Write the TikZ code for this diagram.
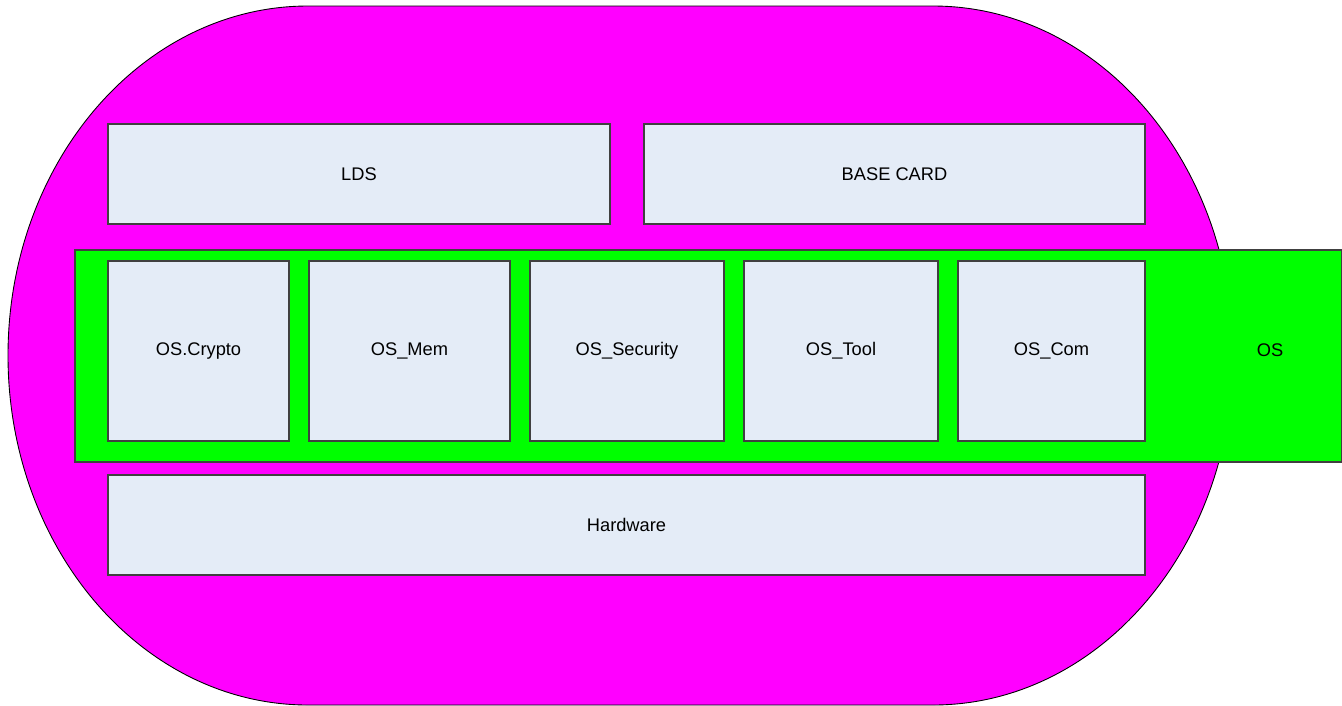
\documentclass[tikz,border=0pt]{standalone}
\usepackage{fontspec}
\setmainfont{Liberation Sans}
\usepackage{tikz}
\definecolor{boxfill}{RGB}{228,236,247}
\definecolor{boxline}{RGB}{64,64,64}
\definecolor{cardpink}{RGB}{255,0,255}
\definecolor{osgreen}{RGB}{0,255,0}
\tikzset{
    mybox/.style={rectangle,draw=boxline,fill=boxfill,line width=0.6pt,inner sep=0pt,minimum height=2cm,text centered,font=\fontsize{10.4}{12}\selectfont},
    mymod/.style={mybox,minimum height=3.6cm},
    oslayer/.style={rectangle,draw=boxline,fill=osgreen,line width=0.6pt,inner sep=0pt,minimum width=25.34cm,minimum height=4.24cm},
    mylabel/.style={font=\fontsize{10.4}{12}\selectfont}
}
\begin{document}
\begin{tikzpicture}
    \useasboundingbox (0,0) rectangle (26.84,-14.1);
    % card outline
    \draw[fill=cardpink,line width=0.5pt] (6.16,-0.12) -- (18.66,-0.12)
        arc[start angle=90,end angle=-90,x radius=6,y radius=6.99] -- (6.16,-14.1)
        arc[start angle=270,end angle=90,x radius=6,y radius=6.99] -- cycle;
    \draw (7.18,-3.48) node[mybox,minimum width=10.04cm] (lds) {LDS};
    \draw (17.89,-3.48) node[mybox,minimum width=10.02cm] (basecard) {BASE CARD};
    \draw (14.17,-7.12) node[oslayer] (os) {};
    \draw (25.4,-7.0) node[mylabel] (oslabel) {OS};
    \draw (3.97,-7.02) node[mymod,minimum width=3.62cm] (crypto) {OS.Crypto};
    \draw (8.19,-7.02) node[mymod,minimum width=4.02cm] (mem) {OS\_Mem};
    \draw (12.54,-7.02) node[mymod,minimum width=3.88cm] (security) {OS\_Security};
    \draw (16.82,-7.02) node[mymod,minimum width=3.88cm] (tool) {OS\_Tool};
    \draw (21.03,-7.02) node[mymod,minimum width=3.74cm] (com) {OS\_Com};
    \draw (12.53,-10.5) node[mybox,minimum width=20.74cm] (hardware) {Hardware};
\end{tikzpicture}
\end{document}
